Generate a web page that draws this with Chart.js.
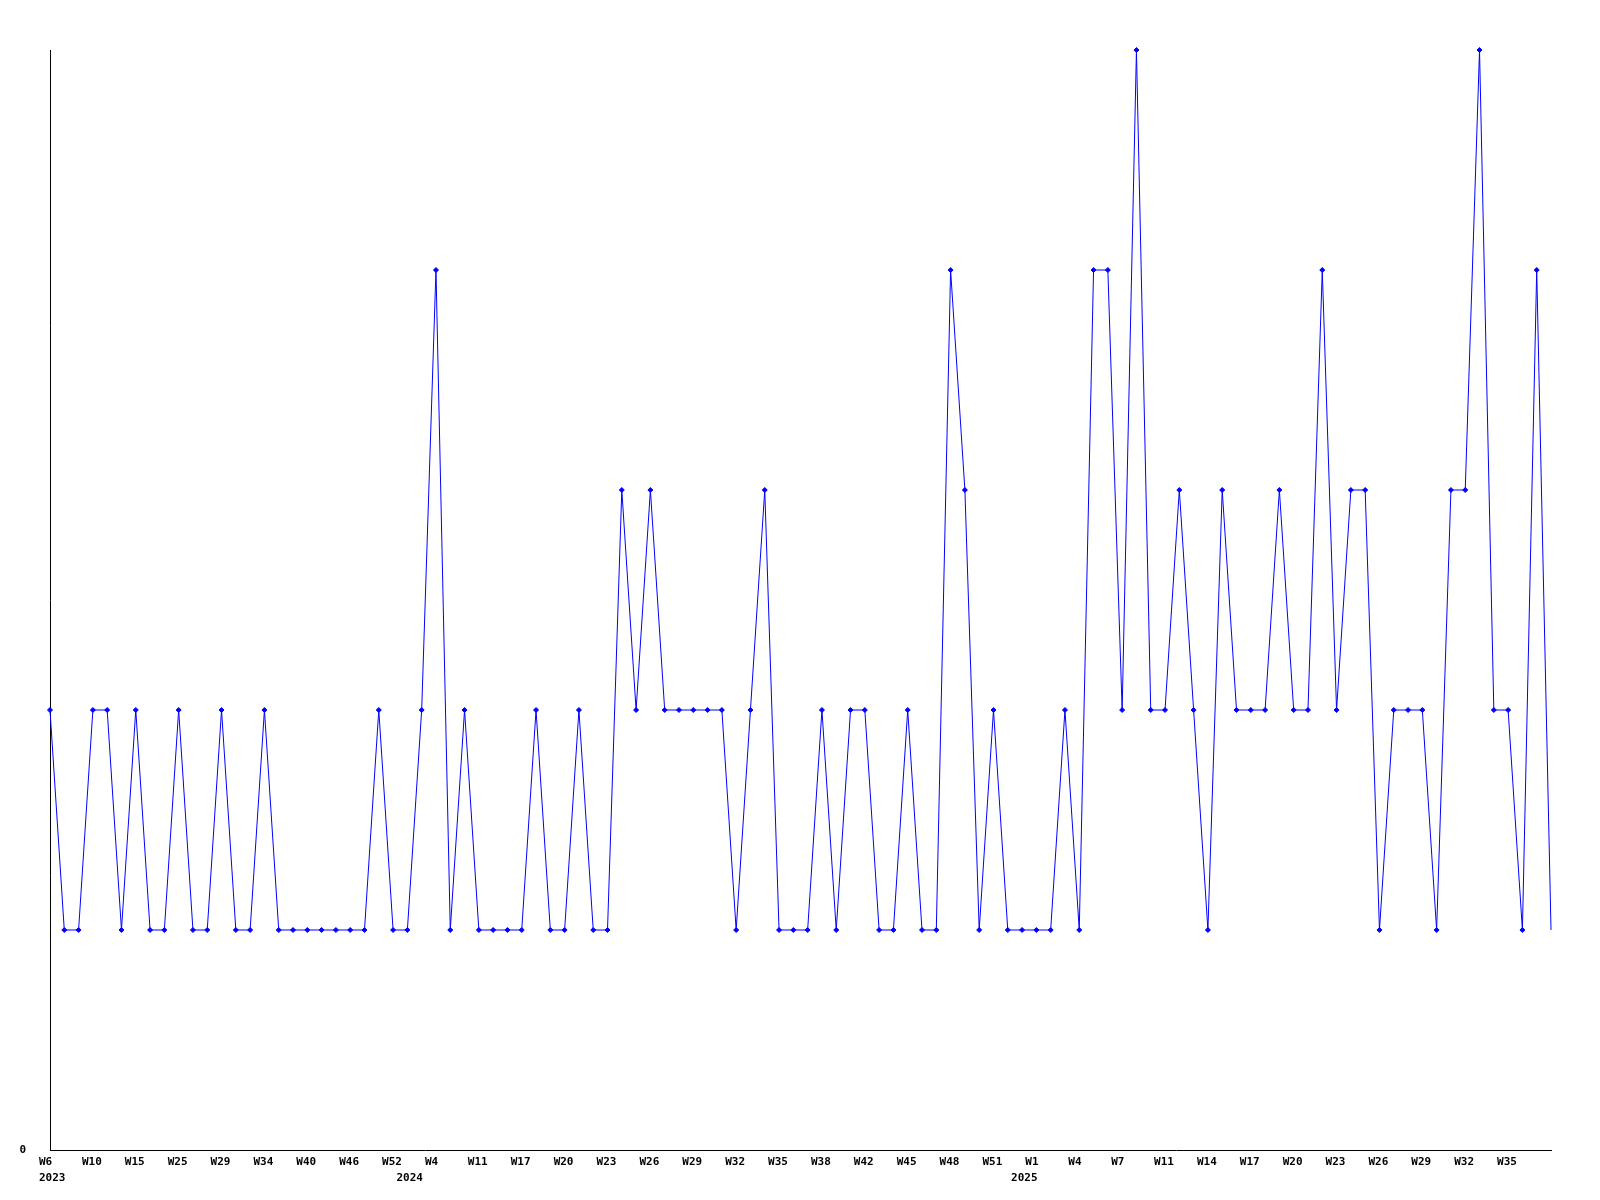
<!DOCTYPE html>
<html lang="en">
<head>
    <meta charset="UTF-8">
    <title>Weekly counts</title>
    <style>
        body {
            margin: 0;
            background: #fff;
        }
    </style>
</head>
<body>
    <canvas id="myChart" width="1600" height="1200"></canvas>
    <script src="https://cdn.jsdelivr.net/npm/chart.js@4/dist/chart.umd.min.js"></script>
    <script>
        // one entry per week that has data
        const weeks = [
            'W6', 'W7', 'W8', 'W10', 'W12', 'W13', 'W15', 'W18', 'W21', 'W25',
            'W26', 'W27', 'W29', 'W31', 'W32', 'W34', 'W36', 'W38', 'W40', 'W42',
            'W44', 'W46', 'W48', 'W50', 'W52', 'W1', 'W3', 'W4', 'W6', 'W9',
            'W11', 'W13', 'W15', 'W17', 'W18', 'W19', 'W20', 'W21', 'W22', 'W23',
            'W24', 'W25', 'W26', 'W27', 'W28', 'W29', 'W30', 'W31', 'W32', 'W33',
            'W34', 'W35', 'W36', 'W37', 'W38', 'W40', 'W41', 'W42', 'W43', 'W44',
            'W45', 'W46', 'W47', 'W48', 'W49', 'W50', 'W51', 'W52', 'W53', 'W1',
            'W2', 'W3', 'W4', 'W5', 'W6', 'W7', 'W8', 'W10', 'W11', 'W12',
            'W13', 'W14', 'W15', 'W16', 'W17', 'W18', 'W19', 'W20', 'W21', 'W22',
            'W23', 'W24', 'W25', 'W26', 'W27', 'W28', 'W29', 'W30', 'W31', 'W32',
            'W33', 'W34', 'W35', 'W36', 'W37', 'W38'
        ];

        const counts = [
            2, 1, 1, 2, 2, 1, 2, 1, 1, 2,
            1, 1, 2, 1, 1, 2, 1, 1, 1, 1,
            1, 1, 1, 2, 1, 1, 2, 4, 1, 2,
            1, 1, 1, 1, 2, 1, 1, 2, 1, 1,
            3, 2, 3, 2, 2, 2, 2, 2, 1, 2,
            3, 1, 1, 1, 2, 1, 2, 2, 1, 1,
            2, 1, 1, 4, 3, 1, 2, 1, 1, 1,
            1, 2, 1, 4, 4, 2, 5, 2, 2, 3,
            2, 1, 3, 2, 2, 2, 3, 2, 2, 4,
            2, 3, 3, 1, 2, 2, 2, 1, 3, 3,
            5, 2, 2, 1, 4, 1
        ];

        // year captions and the week index where each year begins
        const yearNames = ['2023', '2024', '2025'];
        const yearStarts = [0, 25, 68];

        const labelStep = 3;

        const tickFont = {
            family: 'DejaVu Sans Mono',
            size: 11,
            weight: 'bold'
        };

        let ctx = document.getElementById('myChart').getContext('2d');
        let chart = new Chart(ctx, {
            type: 'line',
            data: {
                labels: weeks,
                datasets: [{
                    data: counts,
                    borderColor: '#0000ff',
                    backgroundColor: '#0000ff',
                    borderWidth: 1,
                    pointStyle: 'rectRot',
                    pointRadius: (c) => c.dataIndex === counts.length - 1 ? 0 : 2.5,
                    pointBorderWidth: 1,
                    tension: 0,
                    clip: false
                }]
            },
            options: {
                responsive: false,
                animation: false,
                layout: {
                    padding: { top: 50, right: 49, bottom: 14, left: 0 }
                },
                plugins: {
                    legend: { display: false },
                    tooltip: { enabled: false }
                },
                scales: {
                    x: {
                        type: 'category',
                        position: 'bottom',
                        grid: { display: false, drawTicks: false },
                        border: { display: true, color: '#000', width: 1 },
                        ticks: {
                            autoSkip: false,
                            maxRotation: 0,
                            minRotation: 0,
                            align: 'start',
                            labelOffset: -11,
                            padding: 6,
                            color: '#000',
                            font: tickFont,
                            // every third week, none on the closing point
                            callback: (v, i) => (i % labelStep === 0 && i < weeks.length - 1) ? weeks[i] : null
                        },
                        afterFit: (s) => { s.height = 19; }
                    },
                    xYear: {
                        type: 'category',
                        position: 'bottom',
                        grid: { display: false, drawTicks: false },
                        border: { display: false },
                        ticks: {
                            autoSkip: false,
                            maxRotation: 0,
                            minRotation: 0,
                            align: 'start',
                            labelOffset: -11,
                            padding: 3,
                            color: '#000',
                            font: tickFont,
                            callback: (v, i) => {
                                let k = yearStarts.indexOf(i);
                                return k >= 0 ? yearNames[k] : null;
                            }
                        },
                        afterFit: (s) => { s.height = 17; }
                    },
                    y: {
                        min: 0,
                        max: 5,
                        grid: { display: false, drawTicks: false },
                        border: { display: true, color: '#000', width: 1 },
                        ticks: {
                            stepSize: 1,
                            padding: 24,
                            color: '#000',
                            font: tickFont,
                            callback: (v) => v === 0 ? '0' : null
                        },
                        afterFit: (s) => { s.width = 50; }
                    }
                }
            }
        });
    </script>
</body>
</html>
